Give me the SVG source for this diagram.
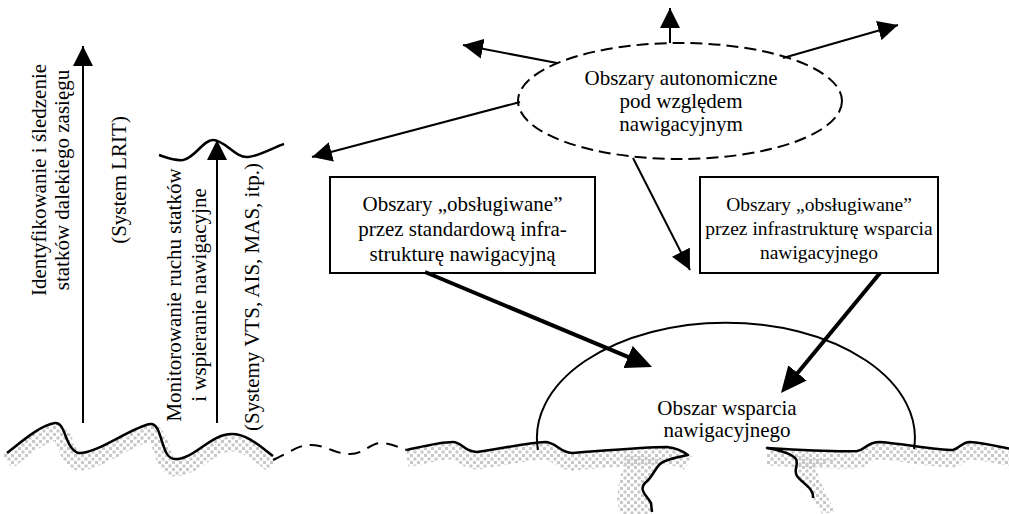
<svg xmlns="http://www.w3.org/2000/svg" width="1009" height="514" viewBox="0 0 1009 514">
<style>
text{font-family:"Liberation Serif","Times New Roman",serif;font-size:21px;fill:#000}
.c{text-anchor:middle}
.s{font-size:19.5px}
.box{fill:#fff;stroke:#000;stroke-width:2}
.thin{fill:none;stroke:#000;stroke-width:2;marker-end:url(#ah)}
.thick{fill:none;stroke:#000;stroke-width:4;marker-end:url(#ahT)}
.coast{fill:none;stroke:#000;stroke-width:2.5;stroke-linejoin:round}
.band{fill:none;stroke:url(#dots);stroke-width:17}
</style>
<defs>
<pattern id="dots" width="7" height="7" patternUnits="userSpaceOnUse">
<rect x="0.5" y="0.5" width="3" height="3" fill="#c8c8c8"/>
<rect x="4" y="4" width="3" height="3" fill="#c8c8c8"/>
</pattern>
<marker id="ah" viewBox="0 0 20 20" refX="20" refY="10" markerWidth="20" markerHeight="20" markerUnits="userSpaceOnUse" orient="auto">
<path d="M0,0 L20,10 L0,20 z" fill="#000"/>
</marker>
<marker id="ahT" viewBox="0 0 26 24" refX="20" refY="12" markerWidth="26" markerHeight="24" markerUnits="userSpaceOnUse" orient="auto">
<path d="M0,0 L26,12 L0,24 z" fill="#000"/>
</marker>
</defs>
<rect width="1009" height="514" fill="#fff"/>

<g id="coastline">
<path class="band" transform="translate(0,9)" d="M7,453 C20,443 40,425 55,423 C66,422 64,447 78,453 C95,455 130,428 150,424 C163,422 160,459 175,459 C195,459 210,434 232,434 C248,434 262,448 273,456"/>
<path class="band" transform="translate(0,9)" d="M407,450 C425,446 440,442 453,442 C462,442 464,452 477,452 C500,449 525,443 545,442 C556,442 560,453 572,453 C600,451 645,447 667,447 C677,448 684,452 688,455"/>
<path class="band" transform="translate(0,9)" d="M767,448 C800,450 840,452 857,451 C866,450 866,442 880,442 C905,444 935,450 953,450 C960,448 962,442 970,442 C985,443 1000,447 1012,449"/>
<polygon fill="url(#dots)" points="625,455 665,458 658,464 652,473 645,483 642,490 650,500 652,514 620,514 617,500 619,480 624,465"/>
<polygon fill="url(#dots)" points="790,455 835,460 815,467 822,485 835,512 822,514 813,498 808,486 797,476 795,470 797,461"/>
<path class="coast" d="M7,453 C20,443 40,425 55,423 C66,422 64,447 78,453 C95,455 130,428 150,424 C163,422 160,459 175,459 C195,459 210,434 232,434 C248,434 262,448 273,456"/>
<path fill="none" stroke="#000" stroke-width="2" stroke-dasharray="12,8" d="M273,460 C290,452 300,444 312,445 C328,446 335,454 350,454 C365,454 370,442 383,443 C393,444 400,448 407,450"/>
<path class="coast" d="M407,450 C425,446 440,442 453,442 C462,442 464,452 477,452 C500,449 525,443 545,442 C556,442 560,453 572,453 C600,451 645,447 667,447 C677,448 684,452 688,455 C678,457 665,459 660,464 C654,470 652,478 645,483 C638,490 648,497 651,503 L652,512"/>
<path class="coast" d="M1012,449 C1000,447 985,443 970,442 C962,442 960,448 953,450 C935,450 905,444 880,442 C866,442 866,450 857,451 C840,452 800,450 767,448 C778,450 792,454 796,459 C799,465 793,470 797,476 C803,484 814,488 813,498"/>
</g>

<g id="node-lrit">
<text class="c" transform="translate(46,180) rotate(-90)">Identyfikowanie i śledzenie</text>
<text class="c" transform="translate(69,180) rotate(-90)">statków dalekiego zasięgu</text>
<text class="c" transform="translate(126,180) rotate(-90)">(System LRIT)</text>
</g>

<g id="node-vts">
<text class="c" transform="translate(181,295) rotate(-90)">Monitorowanie ruchu statków</text>
<text class="c" transform="translate(206,295) rotate(-90)">i wspieranie nawigacyjne</text>
<text class="c" transform="translate(259,297) rotate(-90)">(Systemy VTS, AIS, MAS, itp.)</text>
<path fill="none" stroke="#000" stroke-width="2.5" d="M159,155 C168,158 175,161 183,160 C195,158 203,140 213,140 C225,140 235,158 248,157 C260,156 272,148 284,144"/>
</g>

<g id="node-autonomous">
<ellipse cx="680" cy="101" rx="162" ry="58" fill="none" stroke="#000" stroke-width="2" stroke-dasharray="12,6"/>
<text class="c" x="681" y="85">Obszary autonomiczne</text>
<text class="c" x="681" y="108">pod względem</text>
<text class="c" x="681" y="131">nawigacyjnym</text>
</g>

<g id="node-standard">
<rect class="box" x="330" y="177" width="265" height="96"/>
<text class="c" x="462.5" y="211">Obszary „obsługiwane”</text>
<text class="c" x="462.5" y="236">przez standardową infra-</text>
<text class="c" x="462.5" y="261">strukturę nawigacyjną</text>
</g>

<g id="node-support-infra">
<rect class="box" x="700" y="177" width="238" height="96"/>
<text class="c s" x="819" y="211">Obszary „obsługiwane”</text>
<text class="c s" x="819" y="235">przez infrastrukturę wsparcia</text>
<text class="c s" x="819" y="259">nawigacyjnego</text>
</g>

<g id="node-support-area">
<path fill="none" stroke="#000" stroke-width="2" d="M538,450 A189,115 0 1 1 914,449"/>
<text class="c" x="727" y="415">Obszar wsparcia</text>
<text class="c" x="727" y="437">nawigacyjnego</text>
</g>

<g id="connectors">
<line class="thin" x1="83" y1="423" x2="83" y2="46"/>
<line class="thin" x1="217" y1="423" x2="217" y2="140"/>
<line class="thin" x1="670" y1="43" x2="670" y2="8"/>
<line class="thin" x1="557" y1="63" x2="463" y2="45"/>
<line class="thin" x1="783" y1="58" x2="898" y2="25"/>
<line class="thin" x1="520" y1="102" x2="312" y2="157"/>
<line class="thin" x1="633" y1="158" x2="690" y2="270"/>
<line class="thick" x1="425" y1="272" x2="646.5" y2="364.7"/>
<line class="thick" x1="880" y1="273" x2="784.8" y2="388.4"/>
</g>
</svg>
